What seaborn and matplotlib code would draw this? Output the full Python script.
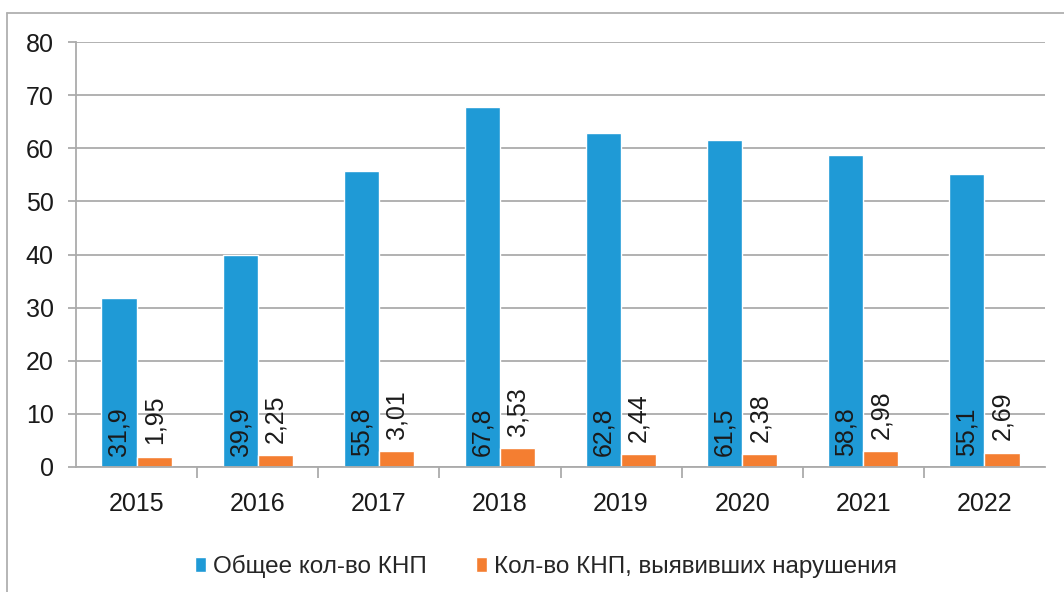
import pandas as pd
import matplotlib.pyplot as plt
import seaborn as sns
from matplotlib.lines import Line2D

years = ['2015', '2016', '2017', '2018', '2019', '2020', '2021', '2022']
total = [31.9, 39.9, 55.8, 67.8, 62.8, 61.5, 58.8, 55.1]
violations = [1.95, 2.25, 3.01, 3.53, 2.44, 2.38, 2.98, 2.69]
series = ['Общее кол-во КНП', 'Кол-во КНП, выявивших нарушения']
colors = ['#1f9ad6', '#f47e31']

def main():
	df = pd.DataFrame({
		'year': years * 2,
		'value': total + violations,
		'series': [series[0]] * len(years) + [series[1]] * len(years),
	})

	sns.set_style('white')
	plt.rcParams['font.family'] = ['Liberation Sans', 'DejaVu Sans']

	fig = plt.figure(figsize=(10.64, 5.92), dpi=100)
	ax = fig.add_axes([76 / 1064, 1 - 467 / 592, 969 / 1064, 425 / 592])

	sns.barplot(data=df, x='year', y='value', hue='series', palette=colors,
		width=0.58, gap=0, saturation=1, ax=ax, legend=True)

	ax.set_ylim(0, 80)
	ax.set_xlim(-0.5, len(years) - 0.5)
	ax.set_yticks(range(0, 81, 10))
	ax.yaxis.grid(True, color='#ababab', linewidth=1.3)
	ax.set_axisbelow(True)
	ax.set_xlabel('')
	ax.set_ylabel('')

	for side in ['top', 'right']:
		ax.spines[side].set_visible(False)
	for side in ['left', 'bottom']:
		ax.spines[side].set_color('#ababab')
		ax.spines[side].set_linewidth(1.3)

	ax.tick_params(axis='y', length=6, width=1.3, color='#ababab', pad=10,
		labelsize=18, labelcolor='#1a1a1a', left=True)
	ax.tick_params(axis='x', which='major', length=0, pad=18, labelsize=18,
		labelcolor='#1a1a1a')
	ax.set_xticks([i + 0.5 for i in range(len(years) - 1)], minor=True)
	ax.tick_params(axis='x', which='minor', length=8, width=1.3, color='#ababab',
		bottom=True)

	# labels: blue inside base, orange above the bar
	for bar, v in zip(ax.containers[0], total):
		ax.annotate(str(v).replace('.', ','), (bar.get_x() + bar.get_width() / 2, 0),
			xytext=(0, 8), textcoords='offset points', rotation=90,
			ha='center', va='bottom', fontsize=18, color='#1a1a1a')
	for bar, v in zip(ax.containers[1], violations):
		ax.annotate(str(v).replace('.', ','), (bar.get_x() + bar.get_width() / 2, bar.get_height()),
			xytext=(0, 9), textcoords='offset points', rotation=90,
			ha='center', va='bottom', fontsize=18, color='#1a1a1a')

	ax.legend(loc='upper center', bbox_to_anchor=(0.485, -0.155), ncol=2, frameon=False,
		fontsize=17.5, handlelength=0.45, handleheight=0.55, handletextpad=0.3,
		columnspacing=2.0)

	# outer chart frame
	fig.add_artist(Line2D([7 / 1064, 7 / 1064], [0, 1 - 13 / 592], transform=fig.transFigure,
		color='#b0b0b0', linewidth=1.3))
	fig.add_artist(Line2D([7 / 1064, 1], [1 - 13 / 592, 1 - 13 / 592], transform=fig.transFigure,
		color='#b0b0b0', linewidth=1.3))

	fig.savefig('out.png', dpi=100)

main()
